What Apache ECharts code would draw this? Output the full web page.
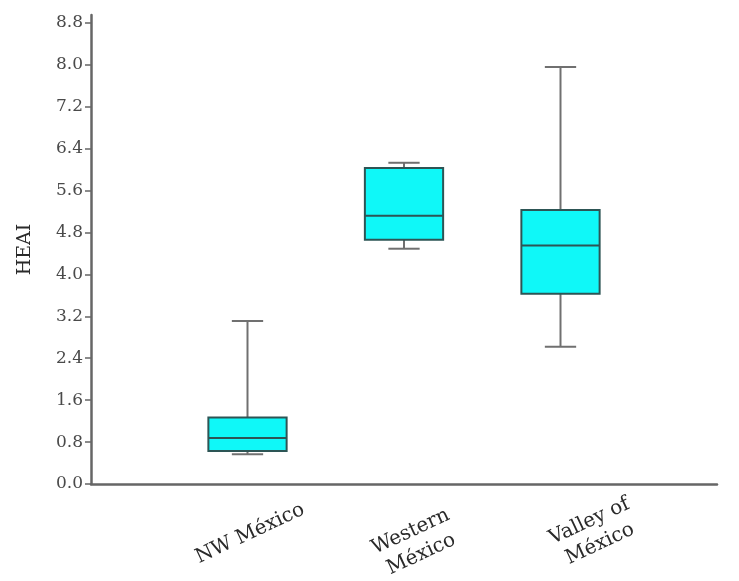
<!DOCTYPE html>
<html lang="en">
<head>
    <meta charset="UTF-8">
    <title>HEAI by region</title>
    <style>
        html, body { margin: 0; padding: 0; background: #fff; }
        #container { width: 739px; height: 581px; }
    </style>
</head>
<body>
<div id="container"></div>
<script type="text/javascript" src="https://cdn.jsdelivr.net/npm/echarts@6/dist/echarts.min.js"></script>
<script type="text/javascript">
    // categories (empty ends give the extra space on both sides of the axis)
    var regions = ['', 'NW México', 'Western\nMéxico', 'Valley of\nMéxico', ''];
    var yTicks = [0, 0.8, 1.6, 2.4, 3.2, 4.0, 4.8, 5.6, 6.4, 7.2, 8.0, 8.8];

    // box statistics
    var whiskerLow  = [0.57, 4.49, 2.62];
    var quart1      = [0.63, 4.66, 3.63];
    var medians     = [0.88, 5.12, 4.55];
    var quart3      = [1.27, 6.03, 5.23];
    var whiskerHigh = [3.11, 6.13, 7.96];

    var boxData = [];
    for (var i = 0; i < medians.length; i++) {
        boxData.push([i + 1, whiskerLow[i], quart1[i], medians[i], quart3[i], whiskerHigh[i]]);
    }

    var dom = document.getElementById("container");
    var myChart = echarts.init(dom);

    var serif = 'DejaVu Serif';

    // the labels in the picture sit a bit off their ticks, nudge them
    var labelPad = {
        'NW México': [0, 6, 0, 0],
        'Western\nMéxico': [0, 0, 0, 3],
        'Valley of\nMéxico': [0, 0, 0, 52]
    };
    var xLabels = regions.map(function (name) {
        if (labelPad[name]) {
            return {
                value: name,
                textStyle: {align: 'center', verticalAlign: 'top', padding: labelPad[name]}
            };
        }
        return name;
    });

    function renderBox(params, api) {
        var x = api.value(0);
        var lo = api.coord([x, api.value(1)]);
        var q1 = api.coord([x, api.value(2)]);
        var md = api.coord([x, api.value(3)]);
        var q3 = api.coord([x, api.value(4)]);
        var hi = api.coord([x, api.value(5)]);
        var band = api.size([1, 0])[0];
        var half = band * 0.25;
        var cap = band * 0.1;
        var cx = md[0];
        var whisker = {stroke: '#707070', lineWidth: 2};
        var edge = {stroke: '#2d5555', lineWidth: 2};
        return {
            type: 'group',
            children: [
                {type: 'line', shape: {x1: cx, y1: hi[1], x2: cx, y2: q3[1]}, style: whisker},
                {type: 'line', shape: {x1: cx, y1: lo[1], x2: cx, y2: q1[1]}, style: whisker},
                {type: 'line', shape: {x1: cx - cap, y1: hi[1], x2: cx + cap, y2: hi[1]}, style: whisker},
                {type: 'line', shape: {x1: cx - cap, y1: lo[1], x2: cx + cap, y2: lo[1]}, style: whisker},
                {
                    type: 'rect',
                    shape: {x: cx - half, y: q3[1], width: half * 2, height: q1[1] - q3[1]},
                    style: {fill: '#0ff8f8', stroke: '#2d5555', lineWidth: 2}
                },
                {type: 'line', shape: {x1: cx - half, y1: md[1], x2: cx + half, y2: md[1]}, style: edge}
            ]
        };
    }

    var option = {
        animation: false,
        backgroundColor: '#ffffff',
        grid: {
            left: 91,
            right: 22,
            top: 15,
            bottom: 97,
            outerBoundsMode: 'none'
        },
        xAxis: {
            type: 'category',
            data: xLabels,
            boundaryGap: false,
            axisLine: {lineStyle: {color: '#666666', width: 2.5}},
            axisTick: {show: false},
            splitLine: {show: false},
            axisLabel: {
                interval: 0,
                rotate: 25,
                align: 'center',
                verticalAlign: 'top',
                margin: 37,
                fontFamily: serif,
                fontSize: 20,
                lineHeight: 25,
                color: '#2a2a2a'
            }
        },
        yAxis: {
            type: 'value',
            min: 0,
            max: 8.95,
            name: 'HEAI',
            nameLocation: 'middle',
            nameRotate: 90,
            nameGap: 56,
            nameTextStyle: {fontFamily: serif, fontSize: 19, color: '#2a2a2a'},
            axisLine: {show: true, lineStyle: {color: '#666666', width: 2.5}},
            axisTick: {show: true, length: 6, customValues: yTicks, lineStyle: {color: '#666666', width: 1.5}},
            splitLine: {show: false},
            axisLabel: {
                customValues: yTicks,
                margin: 8,
                fontFamily: serif,
                fontSize: 17,
                color: '#4a4a4a',
                formatter: function (v) { return v.toFixed(1); }
            }
        },
        series: [
            {
                name: 'HEAI',
                type: 'custom',
                renderItem: renderBox,
                encode: {x: 0, y: [1, 2, 3, 4, 5]},
                data: boxData
            }
        ]
    };

    myChart.setOption(option, true);
</script>
</body>
</html>
